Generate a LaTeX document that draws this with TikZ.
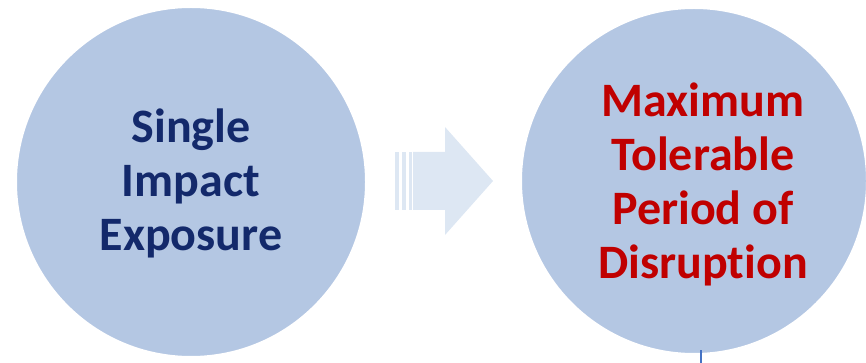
\documentclass[tikz,border=0pt]{standalone}
\usepackage{fontspec}
\setmainfont[Ligatures=NoCommon]{Carlito}
\usetikzlibrary{positioning}
\definecolor{discfill}{HTML}{B4C7E3}
\definecolor{navytext}{HTML}{13296B}
\definecolor{redtext}{HTML}{C00000}
\definecolor{arrowfill}{HTML}{DDE7F3}
\definecolor{tickblue}{HTML}{4472C4}

\begin{document}
\begin{tikzpicture}[
  x=1pt, y=-1pt,
  every node/.style={font=\fontsize{48}{54}\selectfont\bfseries, align=center},
  disc/.style={circle, fill=discfill, draw=white, line width=2pt, minimum size=350pt, inner sep=0pt},
  band/.style={fill=arrowfill}
]
\useasboundingbox (0,0) rectangle (866,363);
\node[disc] (exposure) at (191,182) {};
\node[disc, minimum size=346pt] (mtpd) at (694,181) {};
\node[text=navytext] (exposuretext) at ([yshift=-1pt]exposure.center) {Single\\Impact\\Exposure};
\node[text=redtext] (mtpdtext) at ([xshift=9pt, yshift=-3pt]mtpd.center) {Maximum\\Tolerable\\Period of\\Disruption};
% block arrow with striped tail
\fill[band] (413,152) -- (445,152) -- (445,127) -- (493,181) -- (445,235) -- (445,210) -- (413,210) -- cycle;
\fill[band] (395,152) rectangle (399,210);
\fill[band] (402,152) rectangle (406,210);
\fill[band] (409,152) rectangle (411.5,210);
\draw[tickblue, line width=1.5pt] (701,350) -- (701,363);
\end{tikzpicture}
\end{document}
